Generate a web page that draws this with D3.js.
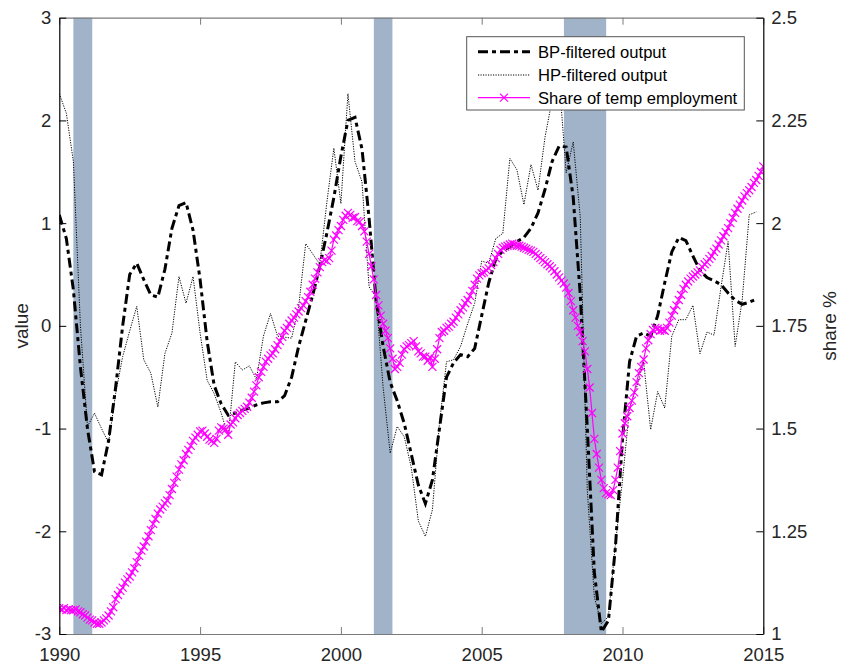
<!DOCTYPE html>
<html><head><meta charset="utf-8">
<script src="https://cdn.jsdelivr.net/npm/d3@7"></script>
<style>body{margin:0;background:#fff} svg{display:block} text{font-family:"Liberation Sans",Arial,sans-serif}</style>
</head><body><svg id="c" width="841" height="671"></svg>
<script>
// ---------- data ----------
const startYear = 1990;
// quarterly, 1990Q1 .. 2014Q4 (left axis "value")
const bpOutput = [
  1.08, 0.85, 0.35, -0.40,
  -1.00, -1.42, -1.45, -1.12,
  -0.60, 0.00, 0.50, 0.61,
  0.45, 0.30, 0.28, 0.55,
  0.95, 1.17, 1.20, 0.93,
  0.45, -0.15, -0.58, -0.76,
  -0.87, -0.85, -0.82, -0.80,
  -0.77, -0.75, -0.74, -0.74,
  -0.68, -0.50, -0.20, 0.05,
  0.30, 0.58, 0.90, 1.25,
  1.65, 2.00, 2.03, 1.72,
  1.05, 0.25, -0.20, -0.55,
  -0.73, -0.95, -1.25, -1.55,
  -1.73, -1.50, -1.00, -0.50,
  -0.36, -0.28, -0.30, -0.22,
  0.10, 0.42, 0.65, 0.73,
  0.77, 0.82, 0.86, 0.95,
  1.10, 1.33, 1.60, 1.75,
  1.74, 1.25, 0.30, -1.00,
  -2.40, -2.98, -2.87, -2.15,
  -1.10, -0.35, -0.10, -0.07,
  -0.10, 0.10, 0.42, 0.72,
  0.86, 0.83, 0.68, 0.54,
  0.47, 0.44, 0.40, 0.32,
  0.25, 0.21, 0.23, 0.26
];
const hpOutput = [
  2.26, 2.07, 1.60, 0.00,
  -0.98, -0.85, -1.00, -1.14,
  -0.66, -0.30, -0.05, 0.19,
  -0.33, -0.46, -0.79, -0.27,
  -0.07, 0.48, 0.22, 0.48,
  -0.07, -0.53, -0.66, -0.85,
  -1.08, -0.35, -0.43, -0.39,
  -0.52, -0.10, 0.12, -0.10,
  -0.11, -0.12, 0.19, 0.80,
  0.70, 0.60, 1.20, 1.73,
  1.19, 2.26, 1.60, 1.40,
  0.38, 0.28, -0.60, -1.24,
  -0.98, -1.08, -1.38, -1.90,
  -2.05, -1.79, -0.95, -0.35,
  -0.33, -0.20, 0.02, 0.22,
  0.63, 0.61, 0.85, 0.90,
  1.63, 1.52, 1.18, 1.57,
  1.32, 1.84, 2.20, 2.40,
  1.49, 1.79, 1.06, -1.60,
  -2.64, -2.90, -2.83, -2.12,
  -1.50, -0.80, -0.60, -0.35,
  -1.01, -0.64, -0.80, -0.10,
  0.06, 0.06, 0.20, -0.27,
  -0.06, -0.09, 0.38, 0.82,
  -0.20, 0.25, 1.08, 1.11
];
// monthly, Jan 1990 .. Jan 2015 (right axis "share %")
const tempShare = [
  1.063, 1.060, 1.063, 1.058, 1.060, 1.058, 1.058, 1.060, 1.055, 1.053, 1.048, 1.045,
  1.040, 1.035, 1.033, 1.028, 1.025, 1.025, 1.028, 1.033, 1.038, 1.045, 1.055, 1.065,
  1.085, 1.095, 1.105, 1.113, 1.125, 1.133, 1.140, 1.150, 1.160, 1.175, 1.190, 1.203,
  1.213, 1.225, 1.238, 1.253, 1.268, 1.280, 1.293, 1.303, 1.310, 1.318, 1.325, 1.338,
  1.353, 1.368, 1.383, 1.400, 1.413, 1.423, 1.438, 1.448, 1.458, 1.470, 1.478, 1.485,
  1.493, 1.495, 1.488, 1.480, 1.473, 1.470, 1.465, 1.475, 1.495, 1.503, 1.500, 1.498,
  1.485, 1.510, 1.515, 1.525, 1.533, 1.538, 1.543, 1.548, 1.553, 1.563, 1.575, 1.590,
  1.605, 1.625, 1.638, 1.650, 1.663, 1.670, 1.678, 1.683, 1.693, 1.703, 1.713, 1.723,
  1.738, 1.745, 1.755, 1.763, 1.770, 1.778, 1.785, 1.793, 1.800, 1.810, 1.820, 1.833,
  1.850, 1.865, 1.880, 1.893, 1.905, 1.910, 1.908, 1.915, 1.933, 1.960, 1.970, 1.983,
  1.993, 2.008, 2.018, 2.025, 2.020, 2.013, 2.015, 2.005, 2.003, 1.993, 1.980, 1.955,
  1.925, 1.895, 1.863, 1.825, 1.800, 1.775, 1.755, 1.738, 1.720, 1.695, 1.670, 1.645,
  1.650, 1.660, 1.680, 1.693, 1.700, 1.703, 1.708, 1.713, 1.700, 1.688, 1.683, 1.675,
  1.675, 1.665, 1.673, 1.650, 1.670, 1.693, 1.720, 1.735, 1.738, 1.745, 1.748, 1.755,
  1.760, 1.770, 1.778, 1.788, 1.795, 1.805, 1.813, 1.823, 1.835, 1.850, 1.865, 1.873,
  1.878, 1.880, 1.885, 1.890, 1.898, 1.905, 1.915, 1.925, 1.935, 1.940, 1.943, 1.945,
  1.948, 1.950, 1.948, 1.945, 1.945, 1.943, 1.940, 1.938, 1.935, 1.933, 1.930, 1.925,
  1.920, 1.915, 1.910, 1.905, 1.900, 1.895, 1.890, 1.883, 1.875, 1.868, 1.860, 1.853,
  1.843, 1.830, 1.810, 1.788, 1.770, 1.750, 1.735, 1.713, 1.688, 1.645, 1.600, 1.538,
  1.475, 1.438, 1.405, 1.375, 1.355, 1.343, 1.340, 1.338, 1.350, 1.375, 1.405, 1.445,
  1.488, 1.513, 1.530, 1.550, 1.568, 1.588, 1.613, 1.635, 1.650, 1.668, 1.695, 1.715,
  1.730, 1.740, 1.745, 1.743, 1.738, 1.740, 1.738, 1.745, 1.758, 1.775, 1.788, 1.800,
  1.813, 1.825, 1.840, 1.850, 1.858, 1.865, 1.870, 1.875, 1.880, 1.885, 1.893, 1.900,
  1.905, 1.913, 1.920, 1.930, 1.938, 1.948, 1.958, 1.968, 1.978, 1.988, 2.000, 2.013,
  2.025, 2.035, 2.045, 2.055, 2.065, 2.073, 2.080, 2.088, 2.098, 2.105, 2.115, 2.125,
  2.138
];
const recessions = [[1990.5, 1991.17], [2001.17, 2001.83], [2007.92, 2009.42]];
const xTicks = [1990, 1995, 2000, 2005, 2010, 2015];
const yLeftTicks = [-3, -2, -1, 0, 1, 2, 3];
const yLeftLabels = ["-3", "-2", "-1", "0", "1", "2", "3"];
const yRightTicks = [1, 1.25, 1.5, 1.75, 2, 2.25, 2.5];
const yRightLabels = ["1", "1.25", "1.5", "1.75", "2", "2.25", "2.5"];
const seriesNames = ["BP-filtered output", "HP-filtered output", "Share of temp employment"];
const axisTitles = ["value", "share %"];

// ---------- layout ----------
const L = 59.3, R = 763.3, T = 17.7, B = 634;
const svg = d3.select("#c");
const x = d3.scaleLinear().domain([1990, 2015]).range([L, R]);
const yL = d3.scaleLinear().domain([-3, 3]).range([B, T]);
const yR = d3.scaleLinear().domain([1, 2.5]).range([B, T]);

const qData = bpOutput.map((v, i) => ({t: startYear + i / 4, bp: v, hp: hpOutput[i]}));
const mData = tempShare.map((v, i) => ({t: startYear + i / 12, s: v}));

svg.append("defs").append("clipPath").attr("id", "clip")
  .append("rect").attr("x", L).attr("y", T).attr("width", R - L).attr("height", B - T);

// recession shading
svg.append("g").selectAll("rect").data(recessions).join("rect")
  .attr("x", d => x(d[0])).attr("width", d => x(d[1]) - x(d[0]))
  .attr("y", T).attr("height", B - T).attr("fill", "#a0b3c8");

const plot = svg.append("g").attr("clip-path", "url(#clip)");
const lineBP = d3.line().x(d => x(d.t)).y(d => yL(d.bp));
const lineHP = d3.line().x(d => x(d.t)).y(d => yL(d.hp));
const lineS = d3.line().x(d => x(d.t)).y(d => yR(d.s));

plot.append("path").datum(qData).attr("d", lineHP).attr("fill", "none")
  .attr("stroke", "#000").attr("stroke-width", 1).attr("stroke-dasharray", "1.2,1.3");
plot.append("path").datum(qData).attr("d", lineBP).attr("fill", "none")
  .attr("stroke", "#000").attr("stroke-width", 3).attr("stroke-dasharray", "10,4,4,4");
plot.append("path").datum(mData).attr("d", lineS).attr("fill", "none")
  .attr("stroke", "#ff00ff").attr("stroke-width", 1.2);
const mk = "M-4,-4L4,4M-4,4L4,-4";
plot.append("g").selectAll("path").data(mData).join("path")
  .attr("transform", d => `translate(${x(d.t)},${yR(d.s)})`)
  .attr("d", mk).attr("stroke", "#ff00ff").attr("stroke-width", 1.2).attr("fill", "none");

// axes
const fs = 18.5;
function styleAxis(g, lineColor) {
  g.select(".domain").attr("stroke", lineColor).attr("stroke-width", 1.2);
  g.selectAll(".tick line").attr("stroke", lineColor).attr("stroke-width", 1);
  g.selectAll(".tick text").attr("fill", "#262626").style("font-size", fs + "px")
    .style("font-family", "'Liberation Sans', Arial, sans-serif");
}
const gx = svg.append("g").attr("transform", `translate(0,${B})`)
  .call(d3.axisBottom(x).tickValues(xTicks).tickFormat(d => String(d)).tickSize(-7).tickSizeOuter(0).tickPadding(14));
styleAxis(gx, "#7a7a7a");
const gxt = svg.append("g").attr("transform", `translate(0,${T})`)
  .call(d3.axisTop(x).tickValues(xTicks).tickFormat("").tickSize(-7).tickSizeOuter(0));
styleAxis(gxt, "#7a7a7a");
const gyl = svg.append("g").attr("transform", `translate(${L},0)`)
  .call(d3.axisLeft(yL).tickValues(yLeftTicks).tickFormat((d, i) => yLeftLabels[i]).tickSize(-7).tickSizeOuter(0).tickPadding(8));
styleAxis(gyl, "#000");
const gyr = svg.append("g").attr("transform", `translate(${R},0)`)
  .call(d3.axisRight(yR).tickValues(yRightTicks).tickFormat((d, i) => yRightLabels[i]).tickSize(-7).tickSizeOuter(0).tickPadding(8));
styleAxis(gyr, "#000");

// axis titles
svg.append("text").attr("transform", `translate(21,${(T + B) / 2}) rotate(-90)`)
  .attr("text-anchor", "middle").attr("dy", "0.35em").style("font-size", "19px").attr("fill", "#262626")
  .text(axisTitles[0]);
svg.append("text").attr("transform", `translate(829,${(T + B) / 2}) rotate(-90)`)
  .attr("text-anchor", "middle").attr("dy", "0.35em").style("font-size", "19px").attr("fill", "#262626")
  .text(axisTitles[1]);

// legend
const lg = svg.append("g");
lg.append("rect").attr("x", 466.7).attr("y", 36.7).attr("width", 277.6).attr("height", 73.3)
  .attr("fill", "#fff").attr("stroke", "#555").attr("stroke-width", 1);
const rows = [51.7, 75, 97.7];
const sty = [
  {w: 3, c: "#000", da: "10,4,4,4"},
  {w: 1, c: "#000", da: "1.2,1.3"},
  {w: 1.2, c: "#ff00ff", da: null}
];
seriesNames.forEach((name, i) => {
  const l = lg.append("line").attr("x1", 478).attr("x2", 530).attr("y1", rows[i]).attr("y2", rows[i])
    .attr("stroke", sty[i].c).attr("stroke-width", sty[i].w);
  if (sty[i].da) l.attr("stroke-dasharray", sty[i].da);
  if (i === 2) lg.append("path").attr("transform", `translate(504,${rows[i]})`).attr("d", mk)
    .attr("stroke", "#ff00ff").attr("stroke-width", 1.2).attr("fill", "none");
  lg.append("text").attr("x", 538).attr("y", rows[i]).attr("dy", "0.35em")
    .style("font-size", "16.6px").attr("fill", "#000").text(name);
});
</script></body></html>
